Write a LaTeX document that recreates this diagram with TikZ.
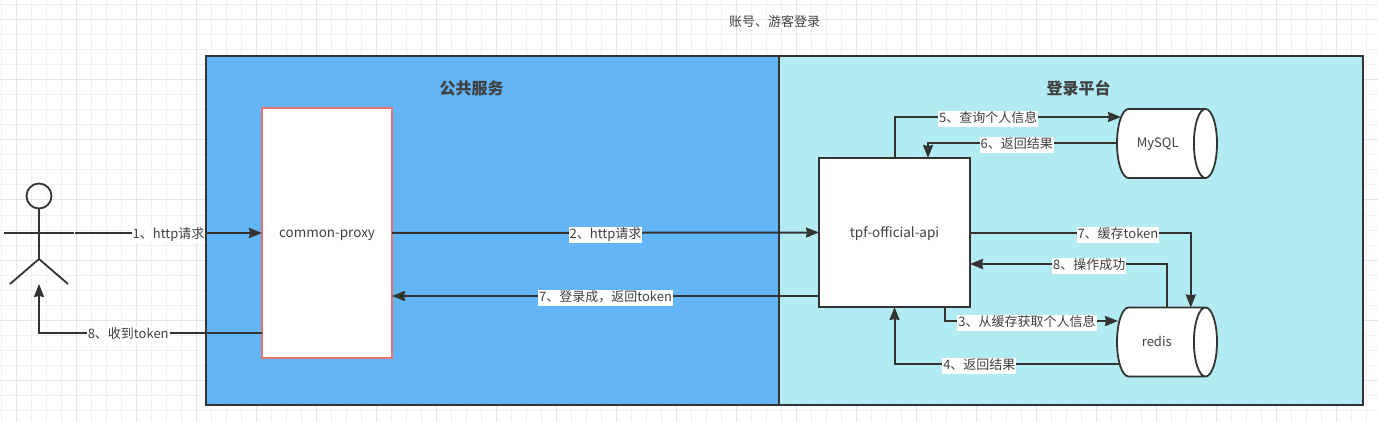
\documentclass[tikz,border=0pt]{standalone}
\usepackage{fontspec}
\setmainfont{Noto Sans CJK SC}
\usetikzlibrary{arrows.meta,shapes.geometric}
\definecolor{inkgray}{HTML}{333333}
\definecolor{textgray}{HTML}{404040}
\definecolor{pubblue}{HTML}{64B5F6}
\definecolor{platcyan}{HTML}{B2EBF2}
\definecolor{proxyred}{HTML}{E57373}
\definecolor{gridminor}{HTML}{F0F0F0}
\definecolor{gridmajor}{HTML}{E5E5E5}
\begin{document}
\begin{tikzpicture}[x=1pt, y=-1pt, >={Stealth[length=13pt,width=10pt,inset=1pt]},
	every node/.style={text=textgray, font=\fontsize{13}{15}\selectfont},
	region/.style={draw=inkgray, line width=2pt, inner sep=0pt, outer sep=0pt},
	svcbox/.style={draw=inkgray, fill=white, line width=2pt, inner sep=0pt, outer sep=0pt, text height=11.5pt, text depth=2.5pt, font=\fontsize{13.5}{15}\selectfont},
	dbcyl/.style={cylinder, draw=inkgray, fill=white, line width=1.8pt, shape aspect=1.65, minimum width=69pt, minimum height=100pt, inner sep=0pt, outer sep=0pt, anchor=shape center, text height=11.5pt, text depth=2.5pt},
	title/.style={font=\fontsize{16}{18}\selectfont\bfseries},
	flow/.style={draw=inkgray, line width=2pt, ->},
	limb/.style={draw=inkgray, line width=1.8pt},
	lbl/.style={fill=white, inner xsep=1pt, inner ysep=1.5pt, text height=10pt, text depth=3pt, yshift=-2pt}]
	\useasboundingbox (0,0) rectangle (1378,422);
	% grid
	\foreach \gx in {1,16,...,1378} \draw[gridminor, line width=1pt] (\gx,0) -- (\gx,422);
	\foreach \gy in {5,20,...,422} \draw[gridminor, line width=1pt] (0,\gy) -- (1378,\gy);
	\foreach \gx in {16,76,...,1378} \draw[gridmajor, line width=1pt] (\gx,0) -- (\gx,422);
	\foreach \gy in {20,80,...,422} \draw[gridmajor, line width=1pt] (0,\gy) -- (1378,\gy);
	% regions
	\node[region, fill=pubblue, minimum width=573pt, minimum height=349pt] (pub) at (492.5,230.5) {};
	\node[region, fill=platcyan, minimum width=584pt, minimum height=349pt] (plat) at (1071,230.5) {};
	\node (heading) at (774.5,22) {账号、游客登录};
	\node[title] (pubtitle) at (471.5,88) {公共服务};
	\node[title] (plattitle) at (1078.5,88) {登录平台};
	% services
	\node[svcbox, draw=proxyred, minimum width=130pt, minimum height=250pt] (proxy) at (327,233) {common-proxy};
	\node[svcbox, minimum width=151pt, minimum height=149pt] (api) at (894.5,232.5) {tpf-official-api};
	\node[dbcyl] (mysql) at (1167,143.5) {MySQL\hspace*{6pt}};
	\node[dbcyl] (redis) at (1167,342) {redis\hspace*{8pt}};
	% actor
	\node[minimum width=70pt, minimum height=102pt, inner sep=0pt, outer sep=0pt] (actor) at (39,233) {};
	\draw[limb] (39,196) circle (12.5);
	\draw[limb] (39,209) -- (39,259);
	\draw[limb] (actor.west) -- (actor.east);
	\draw[limb] (10,284) -- (39,259) -- (68,284);
	% connectors
	\draw[flow] ([xshift=1pt]actor.east) -- (actor.east -| proxy.west) node[lbl, midway]{1、http请求};
	\draw[flow] (proxy.east) -- (api.west) node[lbl, midway]{2、http请求};
	\coordinate (loginback) at ([yshift=-63.5pt]api.west);
	\draw[flow] (loginback) -- (loginback -| proxy.east) node[lbl, midway]{7、登录成，返回token};
	\draw[flow] ([yshift=-100pt]proxy.west) -| (actor.south) node[lbl, pos=.30]{8、收到token};
	\draw[flow] (api.north) |- ([xshift=4pt,yshift=26.5pt]mysql.west) node[lbl, pos=.707]{5、查询个人信息};
	\draw[flow] (mysql.west) -| ([xshift=33.5pt]api.north) node[lbl, pos=.265]{6、返回结果};
	\draw[flow] (api.east) -| ([xshift=30pt]redis.north) node[lbl, pos=.335]{7、缓存token};
	\draw[flow] ([xshift=6pt]redis.north) |- ([yshift=-31.5pt]api.east) node[lbl, pos=.697]{8、操作成功};
	\draw[flow] ([xshift=50.5pt]api.south) |- ([xshift=1pt,yshift=21pt]redis.west) node[lbl, pos=.737]{3、从缓存获取个人信息};
	\draw[flow] ([xshift=2pt,yshift=-22pt]redis.west) -| (api.south) node[lbl, pos=.311]{4、返回结果};
\end{tikzpicture}
\end{document}
